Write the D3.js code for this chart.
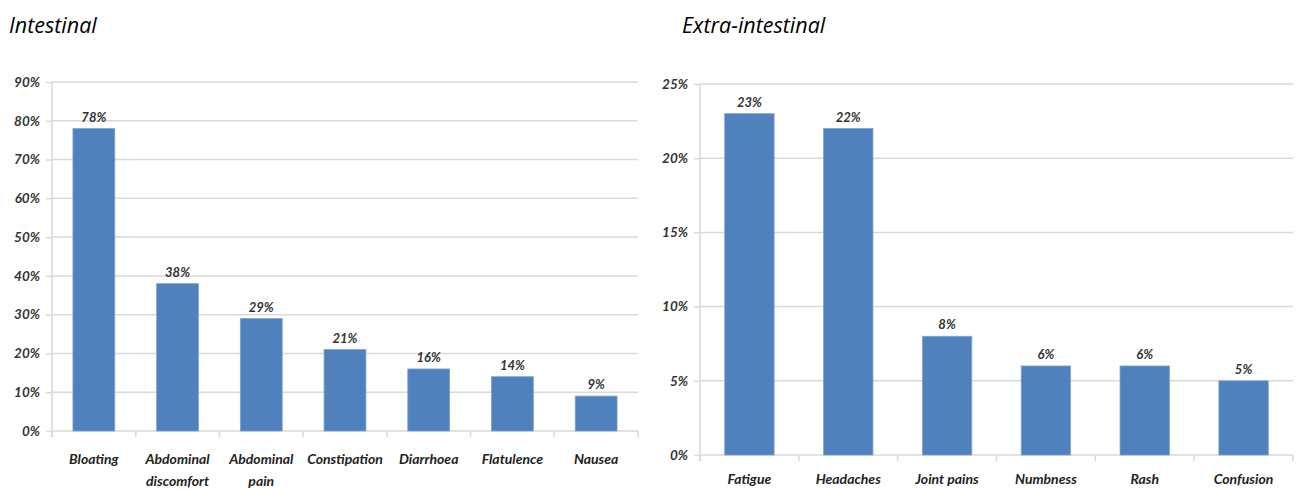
<!DOCTYPE html>
<html>
<head>
<meta charset="utf-8">
<script src="https://cdn.jsdelivr.net/npm/d3@7"></script>
<style>
  html, body { margin: 0; padding: 0; background: #fff; }
  svg { display: block; }
  text { font-family: Lato, "Open Sans", sans-serif; font-style: italic; }
</style>
</head>
<body>
<svg id="chart" width="1298" height="489"></svg>
<script>
// Intestinal symptoms (% of patients)
const intestinalCategories = [["Bloating"], ["Abdominal", "discomfort"], ["Abdominal", "pain"], ["Constipation"], ["Diarrhoea"], ["Flatulence"], ["Nausea"]];
const intestinalValues = [78, 38, 29, 21, 16, 14, 9];
const intestinalTicks = [0, 10, 20, 30, 40, 50, 60, 70, 80, 90];

// Extra-intestinal symptoms (% of patients)
const extraCategories = [["Fatigue"], ["Headaches"], ["Joint pains"], ["Numbness"], ["Rash"], ["Confusion"]];
const extraValues = [23, 22, 8, 6, 6, 5];
const extraTicks = [0, 5, 10, 15, 20, 25];

const svg = d3.select("#chart");
const barColor = "#4F81BD";
const gridColor = "#d9d9d9";

function panel(opts) {
  const g = svg.append("g");
  const labels = opts.categories.map(c => c.join(" "));
  const x = d3.scaleBand().domain(labels).range([opts.x0, opts.x1]).paddingInner(0.5).paddingOuter(0.25);
  const y = d3.scaleLinear().domain([0, opts.max]).range([opts.y0, opts.y1]);

  // panel title
  g.append("text")
    .attr("x", opts.titleX).attr("y", 33)
    .attr("font-size", 21.5).attr("font-weight", 400).attr("fill", "#000")
    .style("font-family", "'Open Sans', sans-serif")
    .text(opts.title);

  // horizontal gridlines
  g.append("g").selectAll("line").data(opts.ticks).join("line")
    .attr("x1", opts.x0).attr("x2", opts.x1)
    .attr("y1", d => y(d)).attr("y2", d => y(d))
    .attr("stroke", gridColor).attr("stroke-width", 1.5);

  // vertical axis line
  g.append("line")
    .attr("x1", opts.x0).attr("x2", opts.x0)
    .attr("y1", y(opts.max)).attr("y2", opts.y0 + 6)
    .attr("stroke", gridColor).attr("stroke-width", 1.5);

  // y-axis tick labels
  const yAxis = d3.axisLeft(y).tickValues(opts.ticks).tickFormat(d => d + "%").tickSize(6).tickPadding(6);
  const ya = g.append("g").attr("transform", `translate(${opts.x0},0)`).call(yAxis);
  ya.select(".domain").remove();
  ya.selectAll(".tick line").attr("stroke", gridColor).attr("stroke-width", 1.5);
  ya.selectAll(".tick text").attr("font-size", 13.5).attr("font-weight", 700)
    .attr("fill", "#333").style("font-family", "Lato, sans-serif").style("font-style", "italic");

  // category boundary ticks below the baseline
  const bounds = d3.range(labels.length + 1).map(i => opts.x0 + i * (opts.x1 - opts.x0) / labels.length);
  g.append("g").selectAll("line").data(bounds).join("line")
    .attr("x1", d => d).attr("x2", d => d)
    .attr("y1", opts.y0).attr("y2", opts.y0 + 6)
    .attr("stroke", gridColor).attr("stroke-width", 1.5);

  // bars
  g.append("g").selectAll("rect").data(opts.values).join("rect")
    .attr("x", (d, i) => x(labels[i]))
    .attr("width", x.bandwidth())
    .attr("y", d => y(d))
    .attr("height", d => opts.y0 - y(d))
    .attr("fill", barColor)
    .attr("stroke", "#7fa3d1").attr("stroke-width", 0.8);

  // value labels
  g.append("g").selectAll("text").data(opts.values).join("text")
    .attr("x", (d, i) => x(labels[i]) + x.bandwidth() / 2)
    .attr("y", d => y(d) - 7)
    .attr("text-anchor", "middle")
    .attr("font-size", 13).attr("font-weight", 700).attr("fill", "#333")
    .text(d => d + "%");

  // category labels
  const cl = g.append("g").selectAll("text").data(opts.categories).join("text")
    .attr("x", (d, i) => x(labels[i]) + x.bandwidth() / 2)
    .attr("y", opts.labelY)
    .attr("text-anchor", "middle")
    .attr("font-size", 14).attr("font-weight", 700).attr("fill", "#222");
  cl.selectAll("tspan").data(d => d).join("tspan")
    .attr("x", function () { return d3.select(this.parentNode).attr("x"); })
    .attr("dy", (d, i) => i === 0 ? 0 : 22)
    .text(d => d);
}

panel({
  title: "Intestinal", titleX: 9,
  categories: intestinalCategories, values: intestinalValues, ticks: intestinalTicks,
  max: 90, x0: 52, x1: 638, y0: 431, y1: 82, labelY: 464
});

panel({
  title: "Extra-intestinal", titleX: 682,
  categories: extraCategories, values: extraValues, ticks: extraTicks,
  max: 25, x0: 700, x1: 1293, y0: 455, y1: 84, labelY: 484
});
</script>
</body>
</html>
